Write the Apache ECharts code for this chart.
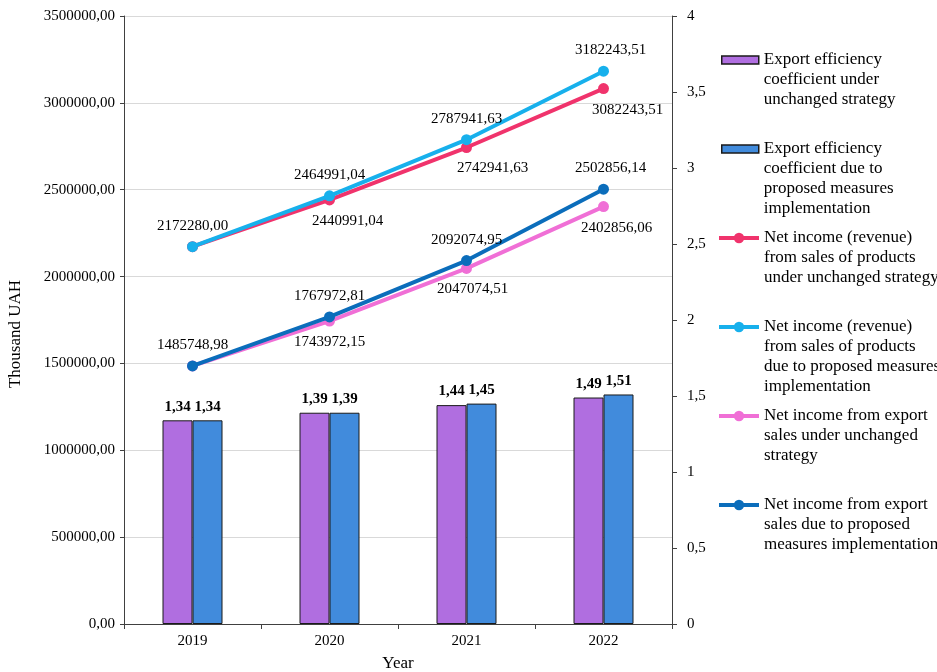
<!DOCTYPE html>
<html>
<head>
<meta charset="utf-8">
<script src="https://cdn.jsdelivr.net/npm/echarts@6/dist/echarts.min.js"></script>
<style>
html,body{margin:0;padding:0;background:#fff;}
#chart{width:937px;height:672px;}
</style>
</head>
<body>
<div id="chart"></div>
<script>
// ---- Data ----
const years = ['2019', '2020', '2021', '2022'];
const coefUnchanged = [1.34, 1.39, 1.44, 1.49];
const coefProposed = [1.34, 1.39, 1.45, 1.51];
const revenueUnchanged = [2172280.00, 2440991.04, 2742941.63, 3082243.51];
const revenueProposed = [2172280.00, 2464991.04, 2787941.63, 3182243.51];
const exportUnchanged = [1485748.98, 1743972.15, 2047074.51, 2402856.06];
const exportProposed = [1485748.98, 1767972.81, 2092074.95, 2502856.14];

const names = [
  'Export efficiency\ncoefficient under\nunchanged strategy',
  'Export efficiency\ncoefficient due to\nproposed measures\nimplementation',
  'Net income (revenue)\nfrom sales of products\nunder unchanged strategy',
  'Net income (revenue)\nfrom sales of products\ndue to proposed measures\nimplementation',
  'Net income from export\nsales under unchanged\nstrategy',
  'Net income from export\nsales due to proposed\nmeasures implementation'
];

// ---- Styling ----
const FONT = "'Liberation Serif', 'Times New Roman', serif";
const colors = ['#B06EE0', '#418BDC', '#F0336C', '#17B0EC', '#F06FD6', '#0B6DBB'];
// label x-offsets per point (null = label hidden)
const labelDx = {
  red:  [null, 18, 26, 24],
  cyan: [0, 0, 0, 7],
  pink: [null, 0, 6, 13],
  blue: [0, 0, 0, 7]
};
const legendIconY = [60, 149, 238, 327, 416, 505];
const LH = 20;

const fmt2 = v => Number(v).toFixed(2).replace('.', ',');

function lineData(values, dx) {
  return values.map((v, i) => {
    if (dx[i] === null) return { value: v, label: { show: false } };
    return { value: v, label: { offset: [dx[i], 0] } };
  });
}

function lineSeries(idx, values, dx, pos) {
  return {
    name: names[idx],
    type: 'line',
    yAxisIndex: 0,
    data: lineData(values, dx),
    symbol: 'circle',
    symbolSize: 11,
    itemStyle: { color: colors[idx] },
    lineStyle: { width: 4, color: colors[idx] },
    label: {
      show: true,
      position: pos,
      distance: 8,
      color: '#000',
      fontFamily: FONT,
      fontSize: 15,
      formatter: p => fmt2(p.value)
    },
    z: 3 + idx
  };
}

function barSeries(idx, values) {
  return {
    name: names[idx],
    type: 'bar',
    yAxisIndex: 1,
    data: values,
    barWidth: 30,
    barGap: '0%',
    itemStyle: { color: colors[idx], borderColor: '#1a1a1a', borderWidth: 1 },
    label: {
      show: true,
      position: 'top',
      distance: 6,
      color: '#000',
      fontFamily: FONT,
      fontSize: 15,
      fontWeight: 'bold',
      formatter: p => fmt2(p.value)
    },
    z: 2
  };
}

const legends = names.map((n, i) => {
  const lines = n.split('\n').length;
  const isBar = i < 2;
  const lg = {
    data: [n],
    left: isBar ? 721 : 717,
    top: legendIconY[i] - (2 * lines - 1) * LH / 2,
    padding: 0,
    itemGap: 0,
    itemWidth: isBar ? 37 : 40,
    itemHeight: isBar ? 8 : 13,
    selectedMode: false,
    formatter: name => '\n'.repeat(lines - 1) + name,
    textStyle: {
      fontFamily: FONT,
      fontSize: 17,
      lineHeight: LH,
      color: '#000'
    }
  };
  if (isBar) {
    lg.icon = 'rect';
    lg.itemStyle = { color: colors[i], borderColor: '#1a1a1a', borderWidth: 1.5 };
  } else {
    lg.itemStyle = { color: colors[i] };
    lg.lineStyle = { width: 4, color: colors[i] };
  }
  return lg;
});

const chart = echarts.init(document.getElementById('chart'), null, { renderer: 'canvas' });
chart.setOption({
  backgroundColor: '#fff',
  animation: false,
  textStyle: { fontFamily: FONT },
  legend: legends,
  grid: { left: 124, right: 265, top: 16, bottom: 48, containLabel: false, outerBoundsMode: 'none' },
  xAxis: {
    type: 'category',
    data: years,
    name: 'Year',
    nameLocation: 'middle',
    nameGap: 31,
    nameTextStyle: { fontFamily: FONT, fontSize: 17, color: '#000' },
    axisLine: { lineStyle: { color: '#404040', width: 1 } },
    axisTick: { show: true, length: 5, lineStyle: { color: '#404040' } },
    axisLabel: { fontFamily: FONT, fontSize: 15, color: '#000', margin: 10 },
    splitLine: { show: false }
  },
  yAxis: [
    {
      type: 'value',
      min: 0,
      max: 3500000,
      interval: 500000,
      name: 'Thousand UAH',
      nameLocation: 'middle',
      nameGap: 100,
      nameTextStyle: { fontFamily: FONT, fontSize: 17, color: '#000', padding: [0, 28, 0, 0] },
      axisLine: { show: true, lineStyle: { color: '#404040', width: 1 } },
      axisTick: { show: true, length: 4, lineStyle: { color: '#404040' } },
      axisLabel: { fontFamily: FONT, fontSize: 15, color: '#000', margin: 9, formatter: v => fmt2(v) },
      splitLine: { show: true, lineStyle: { color: '#D9D9D9', width: 1 } }
    },
    {
      type: 'value',
      min: 0,
      max: 4,
      interval: 0.5,
      position: 'right',
      axisLine: { show: true, lineStyle: { color: '#404040', width: 1 } },
      axisTick: { show: true, length: 5, lineStyle: { color: '#404040' } },
      axisLabel: { fontFamily: FONT, fontSize: 15, color: '#000', margin: 15,
        formatter: v => String(v).replace('.', ',') },
      splitLine: { show: false }
    }
  ],
  series: [
    barSeries(0, coefUnchanged),
    barSeries(1, coefProposed),
    lineSeries(2, revenueUnchanged, labelDx.red, 'bottom'),
    lineSeries(3, revenueProposed, labelDx.cyan, 'top'),
    lineSeries(4, exportUnchanged, labelDx.pink, 'bottom'),
    lineSeries(5, exportProposed, labelDx.blue, 'top')
  ]
});
</script>
</body>
</html>
